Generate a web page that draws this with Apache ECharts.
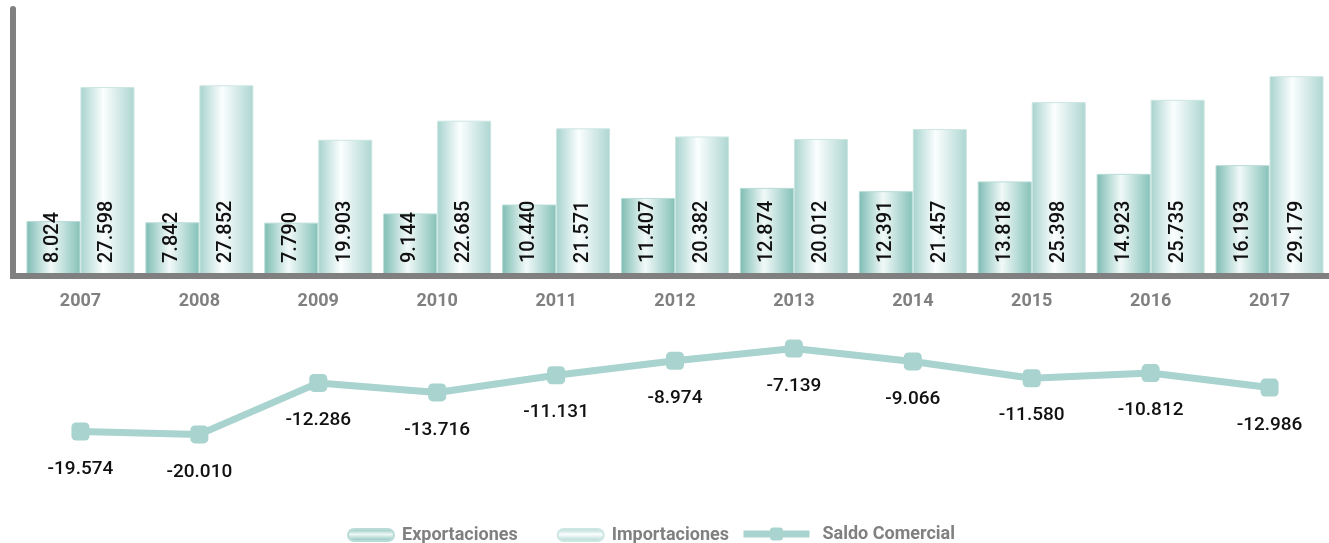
<!DOCTYPE html>
<html>
<head>
<meta charset="utf-8">
<script src="https://cdn.jsdelivr.net/npm/echarts@6/dist/echarts.min.js"></script>
<style>
  html, body { margin: 0; padding: 0; background: #fff; }
  #main { width: 1329px; height: 543px; }
</style>
</head>
<body>
<div id="main"></div>
<script>
var years = ["2007", "2008", "2009", "2010", "2011", "2012", "2013", "2014", "2015", "2016", "2017"];
var exportaciones = [8.024, 7.842, 7.790, 9.144, 10.440, 11.407, 12.874, 12.391, 13.818, 14.923, 16.193];
var importaciones = [27.598, 27.852, 19.903, 22.685, 21.571, 20.382, 20.012, 21.457, 25.398, 25.735, 29.179];
var saldo = [-19.574, -20.010, -12.286, -13.716, -11.131, -8.974, -7.139, -9.066, -11.580, -10.812, -12.986];

var chart = echarts.init(document.getElementById("main"));

// numeros con punto de miles: 8.024
function fmt(v) {
  return v.toFixed(3);
}

var labelFont = "Roboto, sans-serif";

var expColor = new echarts.graphic.LinearGradient(0, 0, 1, 0, [
  { offset: 0, color: "#7dbcb3" },
  { offset: 0.45, color: "#f1f9f8" },
  { offset: 1, color: "#84c1b8" }
]);
var impColor = new echarts.graphic.LinearGradient(0, 0, 1, 0, [
  { offset: 0, color: "#a7d3ce" },
  { offset: 0.42, color: "#fbfefe" },
  { offset: 1, color: "#add6d1" }
]);
// iconos de la leyenda con degradado vertical
var expLegend = new echarts.graphic.LinearGradient(0, 0, 0, 1, [
  { offset: 0, color: "#7dbcb3" },
  { offset: 0.45, color: "#eef8f6" },
  { offset: 1, color: "#7dbcb3" }
]);
var impLegend = new echarts.graphic.LinearGradient(0, 0, 0, 1, [
  { offset: 0, color: "#a7d3ce" },
  { offset: 0.45, color: "#fbfefe" },
  { offset: 1, color: "#a7d3ce" }
]);

var legendText = { color: "#808080", fontWeight: "bold", fontSize: 18, fontFamily: "Roboto, sans-serif" };
// icono tipo pastilla
var pill = "path://M6,0 H40 A6,6 0 0 1 40,12 H6 A6,6 0 0 1 6,0 Z";

chart.setOption({
  animation: false,
  // esquina del eje
  graphic: [
    { type: "rect", left: 10, top: 273, shape: { width: 14, height: 6 }, style: { fill: "#808080" }, z: 10 }
  ],
  legend: [
    {
      top: 521,
      left: 342,
      itemWidth: 46,
      itemHeight: 12,
      itemGap: 39,
      icon: pill,
      textStyle: Object.assign({ padding: [0, 0, 0, 3] }, legendText),
      data: [
        { name: "Exportaciones", itemStyle: { color: expLegend } },
        { name: "Importaciones", itemStyle: { color: impLegend } }
      ]
    },
    {
      top: 520,
      left: 735,
      itemWidth: 66,
      itemHeight: 16,
      textStyle: Object.assign({ padding: [0, 0, 0, 8] }, legendText),
      data: [
        { name: "Saldo Comercial", lineStyle: { width: 7, color: "#a8d3ce" } }
      ]
    }
  ],
  grid: [
    { left: 21, width: 1309, top: 9, height: 267 },
    { left: 21, width: 1309, top: 321, height: 140 }
  ],
  xAxis: [
    {
      type: "category",
      gridIndex: 0,
      data: years,
      z: 5,
      axisLine: { lineStyle: { color: "#808080", width: 6 } },
      axisTick: { show: false },
      axisLabel: { color: "#808080", fontWeight: "bold", fontSize: 18, fontFamily: "Roboto, sans-serif", margin: 16 }
    },
    {
      type: "category",
      gridIndex: 1,
      data: years,
      show: false
    }
  ],
  yAxis: [
    {
      type: "value",
      gridIndex: 0,
      min: 0,
      max: 39,
      offset: 8,
      axisLine: { show: true, lineStyle: { color: "#808080", width: 6 } },
      axisTick: { show: false },
      axisLabel: { show: false },
      splitLine: { show: false }
    },
    {
      type: "value",
      gridIndex: 1,
      min: -24,
      max: -3,
      show: false,
      splitLine: { show: false }
    }
  ],
  series: [
    {
      name: "Exportaciones",
      type: "bar",
      xAxisIndex: 0,
      yAxisIndex: 0,
      data: exportaciones,
      barWidth: 54,
      barGap: "0%",
      itemStyle: { color: expColor, borderColor: "#b9dcd7", borderWidth: 1 },
      label: {
        show: true,
        position: "insideBottom",
        rotate: 90,
        align: "left",
        verticalAlign: "middle",
        distance: 13,
        color: "#111",
        fontSize: 20,
        fontWeight: 500,
        fontFamily: labelFont,
        formatter: function (p) { return fmt(p.value); }
      }
    },
    {
      name: "Importaciones",
      type: "bar",
      xAxisIndex: 0,
      yAxisIndex: 0,
      data: importaciones,
      barWidth: 54,
      barGap: "0%",
      itemStyle: { color: impColor, borderColor: "#cce6e2", borderWidth: 1 },
      label: {
        show: true,
        position: "insideBottom",
        rotate: 90,
        align: "left",
        verticalAlign: "middle",
        distance: 13,
        color: "#111",
        fontSize: 20,
        fontWeight: 500,
        fontFamily: labelFont,
        formatter: function (p) { return fmt(p.value); }
      }
    },
    {
      name: "Saldo Comercial",
      type: "line",
      xAxisIndex: 1,
      yAxisIndex: 1,
      data: saldo,
      symbol: "roundRect",
      symbolSize: 18,
      color: "#a8d3ce",
      lineStyle: { color: "#a8d3ce", width: 7 },
      itemStyle: { color: "#a8d3ce" },
      label: {
        show: true,
        position: "bottom",
        distance: 19,
        color: "#111",
        fontSize: 19,
        fontWeight: 500,
        fontFamily: labelFont,
        formatter: function (p) { return fmt(p.value); }
      }
    }
  ]
});

window.onresize = function () { chart.resize(); };
</script>
</body>
</html>
